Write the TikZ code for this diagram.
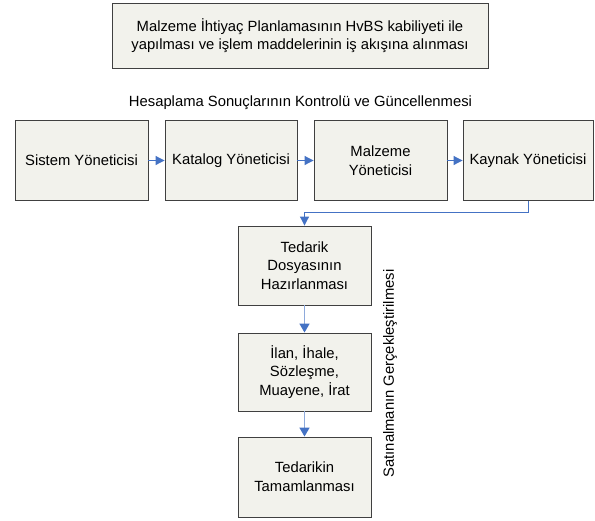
\documentclass[tikz,border=0pt]{standalone}
\usepackage{fontspec}
\setmainfont{Liberation Sans}
\usetikzlibrary{arrows.meta}
\definecolor{boxfill}{HTML}{F2F2EC}
\definecolor{boxdraw}{HTML}{404040}
\definecolor{arrblue}{HTML}{4472C4}
\definecolor{lightblue}{HTML}{8EAADB}
\begin{document}
\begin{tikzpicture}[x=1pt,y=-1pt,
  stepbox/.style={draw=boxdraw,fill=boxfill,line width=0.9pt,inner sep=0pt,align=center,
    font=\fontsize{14.8}{18.7}\selectfont},
  lbl/.style={font=\fontsize{14.8}{18.7}\selectfont,inner sep=0pt},
  conn/.style={draw=arrblue,line width=1pt,-{Triangle[length=9pt,width=9pt,color=arrblue]}},
  lconn/.style={draw=lightblue,line width=1.6pt,-{Triangle[length=9pt,width=10pt,color=arrblue]}}]
\useasboundingbox (0,0) rectangle (595,520);
\node[stepbox,minimum width=376pt,minimum height=65pt] (top) at (300,35.5)
  {Malzeme İhtiyaç Planlamasının HvBS kabiliyeti ile\\yapılması ve işlem maddelerinin iş akışına alınması};
\node[lbl] (hes) at (300.5,103) {Hesaplama Sonuçlarının Kontrolü ve Güncellenmesi};
\node[stepbox,minimum width=133pt,minimum height=80pt] (s1) at (81.5,160.5) {Sistem Yöneticisi};
\node[stepbox,minimum width=132pt,minimum height=80pt] (s2) at (231,160.5) {Katalog Yöneticisi};
\node[stepbox,minimum width=133pt,minimum height=80pt] (s3) at (380.5,160.5) {Malzeme\\Yöneticisi};
\node[stepbox,minimum width=130pt,minimum height=80pt] (s4) at (528,160.5) {Kaynak Yöneticisi};
\node[stepbox,minimum width=133pt,minimum height=79pt] (a) at (304.5,265.5) {Tedarik\\Dosyasının\\Hazırlanması};
\node[stepbox,minimum width=133pt,minimum height=78pt] (b) at (304.5,372) {İlan, İhale,\\Sözleşme,\\Muayene, İrat};
\node[stepbox,minimum width=133pt,minimum height=80pt] (c) at (304.5,477) {Tedarikin\\Tamamlanması};
\node[lbl,rotate=90] (sat) at (390,373.5) {Satınalmanın Gerçekleştirilmesi};
\draw[conn] (s1) -- (s2);
\draw[conn] (s2) -- (s3);
\draw[conn] (s3) -- (s4);
\coordinate (k1) at (s4.south |- 0,212);
\coordinate (k2) at (a.north |- 0,212);
\draw[conn] (s4.south) -- (k1) -- (k2) -- (a.north);
\draw[lconn] (a) -- (b);
\draw[lconn] (b) -- (c);
\end{tikzpicture}
\end{document}
